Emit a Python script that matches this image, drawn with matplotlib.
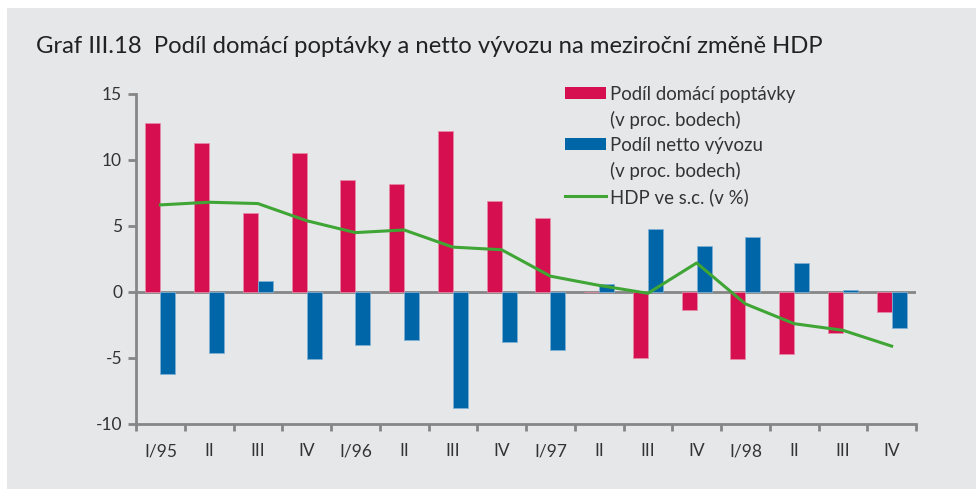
import matplotlib
matplotlib.use("Agg")
import matplotlib.pyplot as plt
import numpy as np
from matplotlib.patches import Rectangle, Patch

plt.rcParams['font.family'] = ['Lato', 'DejaVu Sans']

# data
quarters = ["I/95", "II", "III", "IV", "I/96", "II", "III", "IV",
            "I/97", "II", "III", "IV", "I/98", "II", "III", "IV"]
domestic = [12.8, 11.3, 6.0, 10.5, 8.5, 8.2, 12.2, 6.9,
            5.6, 0.0, -5.0, -1.4, -5.1, -4.7, -3.1, -1.5]
net_export = [-6.2, -4.6, 0.8, -5.1, -4.0, -3.6, -8.8, -3.8,
              -4.4, 0.6, 4.8, 3.5, 4.2, 2.2, 0.15, -2.7]
gdp = [6.6, 6.8, 6.7, 5.4, 4.5, 4.7, 3.4, 3.2,
       1.2, 0.5, -0.1, 2.2, -0.9, -2.4, -2.9, -4.1]

BG = "#e6e7e9"
PINK = "#d60f50"
BLUE = "#0066a8"
GREEN = "#3fa535"
AXC = "#868686"
TXT = "#333333"

fig = plt.figure(figsize=(9.76, 4.92), dpi=100, facecolor="white")
# grey panel behind everything
fig.patches.append(Rectangle((7 / 976, 3 / 492), 969 / 976, 481 / 492,
                             transform=fig.transFigure, facecolor=BG,
                             edgecolor="none", zorder=-10))

ax = fig.add_axes([136 / 976, 1 - 424 / 492, 780 / 976, 330 / 492])
ax.set_facecolor("none")

x = np.arange(len(quarters))
w = 0.31
b1 = ax.bar(x - w / 2, domestic, width=w, color=PINK, edgecolor="#e58aa6",
            linewidth=0.6, zorder=2)
b2 = ax.bar(x + w / 2, net_export, width=w, color=BLUE, edgecolor="#7fb0d4",
            linewidth=0.6, zorder=2)
ln, = ax.plot(x, gdp, color=GREEN, linewidth=2.2, zorder=3)

ax.axhline(0, color=AXC, linewidth=2, zorder=1)

ax.set_xlim(-0.5, len(quarters) - 0.5)
ax.set_ylim(-10, 15)
ax.set_yticks([-10, -5, 0, 5, 10, 15])
ax.set_yticklabels(["-10", "-5", "0", "5", "10", "15"])

ax.set_xticks(x)
ax.set_xticklabels(quarters)
ax.set_xticks(np.arange(-0.5, len(quarters)), minor=True)
ax.tick_params(axis="x", which="major", length=0, pad=14,
               labelsize=12.5, labelcolor=TXT)
ax.tick_params(axis="x", which="minor", length=5, width=2, color=AXC,
               direction="out")
ax.tick_params(axis="y", length=6, width=2, color=AXC, pad=4,
               labelsize=12.5, labelcolor=TXT)

for s in ["top", "right"]:
    ax.spines[s].set_visible(False)
for s in ["left", "bottom"]:
    ax.spines[s].set_color(AXC)
    ax.spines[s].set_linewidth(2)

# legend: second line of each bar label gets a blank handle so the swatch
# sits next to the first line like in the original
blank = Patch(facecolor="none", edgecolor="none")
handles = [Patch(facecolor=PINK, edgecolor="none"), blank,
           Patch(facecolor=BLUE, edgecolor="none"), blank, ln]
labels = ["Podíl domácí poptávky", "(v proc. bodech)",
          "Podíl netto vývozu", "(v proc. bodech)", "HDP ve s.c. (v %)"]
ax.legend(handles, labels, loc="upper left", bbox_to_anchor=(0.55, 1.025),
          frameon=False, fontsize=13.4, handlelength=2.2, handleheight=0.63,
          handletextpad=0.22, labelspacing=0.43, borderpad=0,
          borderaxespad=0, labelcolor=TXT)

fig.text(36 / 976, 1 - 53 / 492,
         "Graf III.18  Podíl domácí poptávky a netto vývozu na meziroční změně HDP",
         fontsize=17.2, color="#222222", ha="left", va="baseline")

fig.savefig("out.png", dpi=100, facecolor="white")
